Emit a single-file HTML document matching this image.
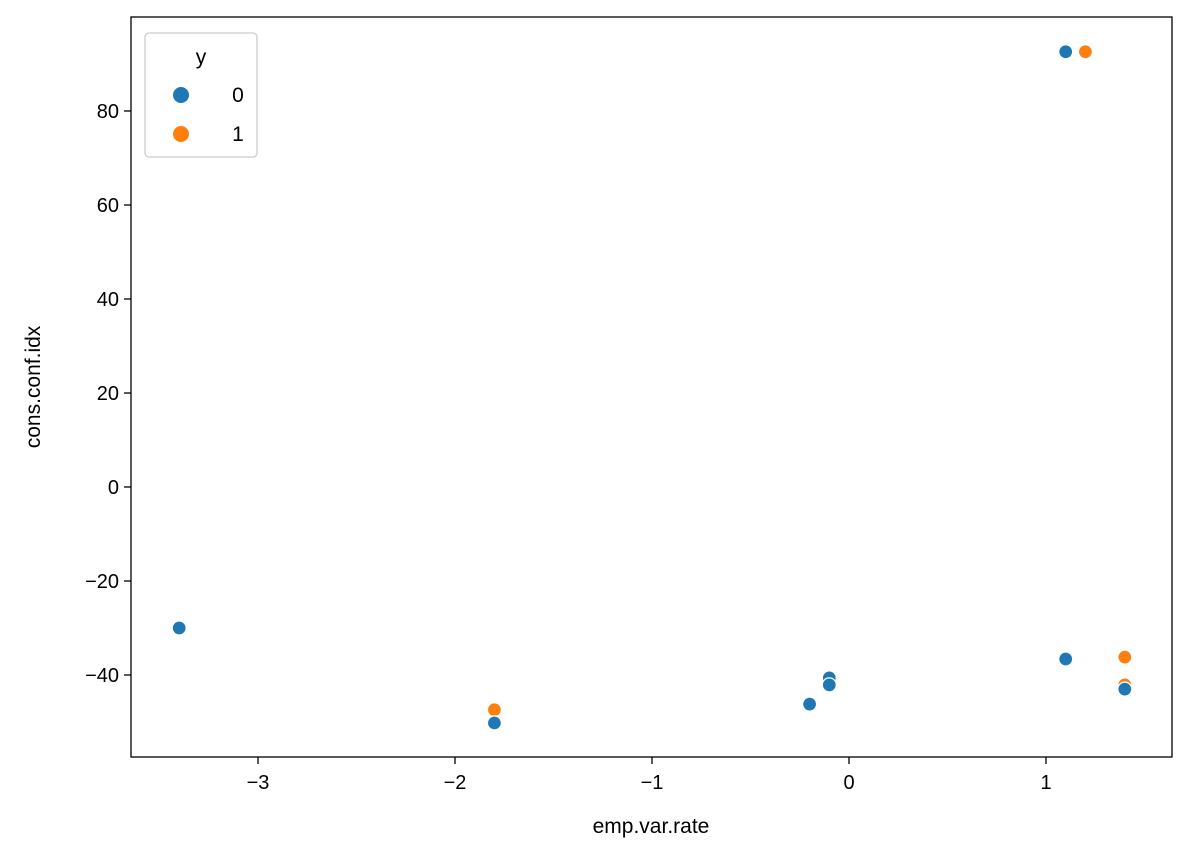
<!DOCTYPE html>
<html><head><meta charset="utf-8"><style>
body{margin:0;background:#fff;}
svg text{font-family:"Liberation Sans","DejaVu Sans",sans-serif;fill:#000;}
</style></head><body>
<svg id="chart" width="1191" height="858" viewBox="0 0 1191 858" xmlns="http://www.w3.org/2000/svg">
<rect x="131" y="17" width="1041" height="740" fill="#fff" stroke="#000" stroke-width="1.3"/>
<g id="xticks"></g><g id="yticks"></g><g id="points"></g>
<text x="651" y="833" font-size="21" text-anchor="middle">emp.var.rate</text>
<text transform="translate(40,387) rotate(-90)" font-size="21" text-anchor="middle">cons.conf.idx</text>
<g>
<rect x="145" y="33" width="112" height="124" rx="4" fill="#fff" stroke="#ccc" stroke-width="1.3"/>
<text x="201" y="64" font-size="21" text-anchor="middle">y</text>
<circle cx="181" cy="95" r="8" fill="#1f77b4"/>
<text x="238" y="102" font-size="21" text-anchor="middle">0</text>
<circle cx="181" cy="134" r="8" fill="#ff7f0e"/>
<text x="238" y="141" font-size="21" text-anchor="middle">1</text>
</g>
</svg>
<script>
const xVals=[1.1,1.2,-3.4,-1.8,-1.8,-0.2,-0.1,-0.1,1.1,1.4,1.4,1.4];
const yVals=[92.6,92.6,-30.0,-47.4,-50.2,-46.2,-40.6,-42.1,-36.6,-36.2,-42.1,-43.0];
const hues=[0,1,0,1,0,0,0,0,0,1,1,0];
const xTicks=[-3,-2,-1,0,1];
const yTicks=[-40,-20,0,20,40,60,80];
const colors=["#1f77b4","#ff7f0e"];
const NS="http://www.w3.org/2000/svg";
const X=v=>849+v*197;
const Y=v=>487-v*4.7;
function mk(t,a,p){const e=document.createElementNS(NS,t);for(const k in a)e.setAttribute(k,a[k]);p.appendChild(e);return e;}
const xg=document.getElementById('xticks'),yg=document.getElementById('yticks'),pg=document.getElementById('points');
xTicks.forEach(v=>{
 const l=mk('line',{x1:X(v),x2:X(v),y1:757,y2:764,stroke:'#000','stroke-width':1.3},xg);
 
 
 const t=mk('text',{x:X(v),y:789,'font-size':20,'text-anchor':'middle'},xg);
 t.textContent=(v<0?'\u2212':'')+Math.abs(v);
 
 
});
yTicks.forEach(v=>{
 const l=mk('line',{x1:124,x2:131,y1:Y(v),y2:Y(v),stroke:'#000','stroke-width':1.3},yg);
 
 
 const t=mk('text',{x:119,y:Y(v)+7,'font-size':20,'text-anchor':'end'},yg);
 t.textContent=(v<0?'\u2212':'')+Math.abs(v);
 
 
});
xVals.forEach((v,i)=>{
 const c=mk('circle',{cx:X(v),cy:Y(yVals[i]),r:7,fill:colors[hues[i]],stroke:'#fff','stroke-width':1.3},pg);
 
 
});
</script>
</body></html>
